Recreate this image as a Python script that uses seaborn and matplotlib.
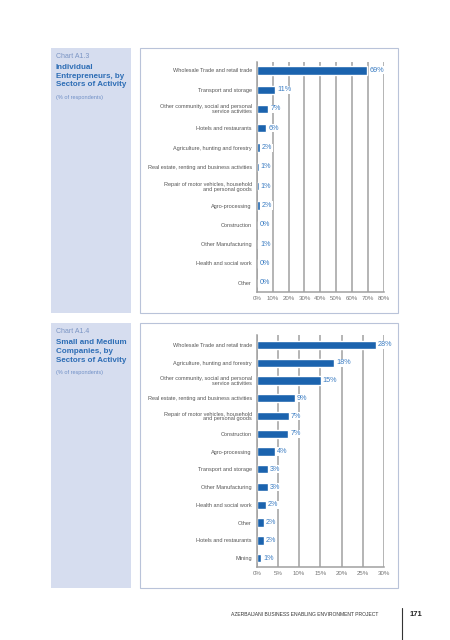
import matplotlib
matplotlib.use("Agg")
import matplotlib.pyplot as plt
import seaborn as sns
from matplotlib.patches import Rectangle

# chart A1.3 - individual entrepreneurs
sectors_ie = ["Wholesale Trade and retail trade", "Transport and storage",
              "Other community, social and personal\nservice activities",
              "Hotels and restaurants", "Agriculture, hunting and forestry",
              "Real estate, renting and business activities",
              "Repair of motor vehicles, household\nand personal goods",
              "Agro-processing", "Construction", "Other Manufacturing",
              "Health and social work", "Other"]
values_ie = [69.5, 11.5, 7.4, 6.1, 1.8, 1.3, 1.3, 1.8, 0.3, 0.8, 0.3, 0.3]
labels_ie = ["69%", "11%", "7%", "6%", "2%", "1%", "1%", "2%", "0%", "1%", "0%", "0%"]
ticks_ie = [0, 10, 20, 30, 40, 50, 60, 70, 80]

# chart A1.4 - small and medium companies
sectors_sme = ["Wholesale Trade and retail trade", "Agriculture, hunting and forestry",
               "Other community, social and personal\nservice activities",
               "Real estate, renting and business activities",
               "Repair of motor vehicles, household\nand personal goods",
               "Construction", "Agro-processing", "Transport and storage",
               "Other Manufacturing", "Health and social work", "Other",
               "Hotels and restaurants", "Mining"]
values_sme = [28.1, 18.2, 15.1, 9.0, 7.6, 7.4, 4.3, 2.7, 2.6, 2.1, 1.7, 1.7, 1.0]
labels_sme = ["28%", "18%", "15%", "9%", "7%", "7%", "4%", "3%", "3%", "2%", "2%", "2%", "1%"]
ticks_sme = [0, 5, 10, 15, 20, 25, 30]

BAR = "#1b63ae"
TXT_BLUE = "#3a7cc2"
GRID = "#a0a0a0"
PANEL = "#d6ddef"
W, H = 450, 640

sns.set_style("white")
plt.rcParams["font.family"] = ["Liberation Sans", "DejaVu Sans"]

fig = plt.figure(figsize=(4.5, 6.4), dpi=100)


def fx(x):
    return x / W


def fy(y):
    return 1 - y / H


def box(x0, y0, x1, y1, **kw):
    fig.patches.append(Rectangle((fx(x0), fy(y1)), fx(x1 - x0), (y1 - y0) / H,
                                 transform=fig.transFigure, zorder=-10, **kw))


def panel(y0, y1, chart, title, ax_top, ax_bot, sectors, values, labels, ticks, ylim, bw):
    box(51, y0, 131, y1, facecolor=PANEL, edgecolor="none")
    box(140, y0, 398, y1, facecolor="white", edgecolor="#b9c3d9", linewidth=0.8)
    fig.text(fx(56), fy(y0 + 5), chart, fontsize=5.0, color="#7b95c4", va="top")
    fig.text(fx(56), fy(y0 + 16), title, fontsize=5.8, color="#2d6db5",
             fontweight="bold", va="top", linespacing=1.35)
    fig.text(fx(56), fy(y0 + 47), "(% of respondents)",
             fontsize=4.0, color="#6f8fc6", va="top")

    ax = fig.add_axes([fx(256.7), fy(ax_bot), fx(384 - 256.7), (ax_bot - ax_top) / H])
    ax.set_zorder(2)
    ax.patch.set_alpha(0)
    sns.barplot(x=values, y=sectors, orient="h", color=BAR, saturation=1,
                width=bw, ax=ax, zorder=3)
    ax.set_xlim(ticks[0], ticks[-1])
    ax.set_ylim(*ylim)
    ax.set_xticks(ticks)
    ax.set_xticklabels([f"{t}%" for t in ticks], fontsize=4.4, color="#777777")
    ax.tick_params(axis="y", labelsize=4.0, labelcolor="#555555", length=0, pad=3.5)
    ax.tick_params(axis="x", length=0, pad=3)
    ax.set_yticklabels(sectors, linespacing=0.95)
    for lab in ax.get_yticklabels():
        lab.set_horizontalalignment("right")
        lab.set_multialignment("right")
    ax.grid(axis="x", color=GRID, linewidth=1.1, zorder=1)
    ax.set_axisbelow(True)
    for s in ["top", "right"]:
        ax.spines[s].set_visible(False)
    for s in ["left", "bottom"]:
        ax.spines[s].set_color(GRID)
        ax.spines[s].set_linewidth(1.1)
        ax.spines[s].set_zorder(5)
    ax.set_xlabel("")
    ax.set_ylabel("")
    ax.bar_label(ax.containers[0], labels=labels, padding=1.5, fontsize=5.2,
                 color=TXT_BLUE, zorder=4,
                 bbox=dict(facecolor="white", edgecolor="none", pad=0.4))
    return ax


panel(48, 313, "Chart A1.3", "Individual\nEntrepreneurs, by\nSectors of Activity",
      61.7, 292, sectors_ie, values_ie, labels_ie, ticks_ie, (11.48, -0.45), 0.43)
panel(323, 588, "Chart A1.4", "Small and Medium\nCompanies, by\nSectors of Activity",
      335, 567, sectors_sme, values_sme, labels_sme, ticks_sme, (12.5, -0.56), 0.47)

# footer
fig.text(fx(378), fy(615), "AZERBAIJANI BUSINESS ENABLING ENVIRONMENT PROJECT",
         fontsize=3.65, color="#333333", ha="right", va="center")
fig.add_artist(plt.Line2D([fx(401.5), fx(401.5)], [fy(608), fy(640)],
                          transform=fig.transFigure, color="#333333", linewidth=0.8))
fig.text(fx(410), fy(614), "171", fontsize=5.5, color="#222222",
         fontweight="bold", va="center")

fig.savefig("out.png", dpi=100)
